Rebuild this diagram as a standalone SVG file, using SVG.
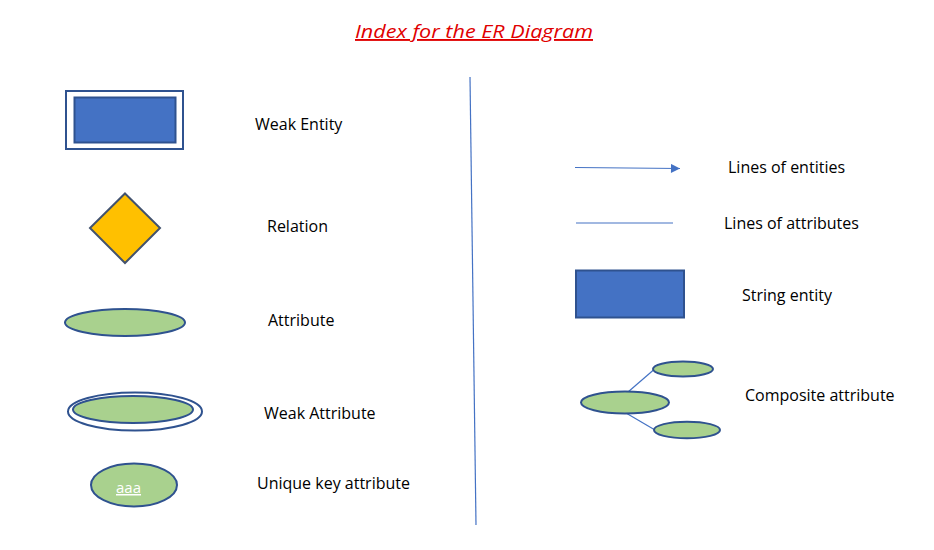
<svg xmlns="http://www.w3.org/2000/svg" width="934" height="550" viewBox="0 0 934 550">
  <style>
    .label { font-family: "Open Sans", "Liberation Sans", sans-serif; font-size: 16px; fill: #000; }
    .title { font-family: "Open Sans", "Liberation Sans", sans-serif; font-size: 19px; font-style: italic; fill: #E00000; text-decoration: underline; }
    .entity { fill: #4472C4; stroke: #2F528F; stroke-width: 2; }
    .frame { fill: #fff; stroke: #2F528F; stroke-width: 2; }
    .rel { fill: #FFC000; stroke: #42526E; stroke-width: 2; }
    .attr { fill: #A9D18E; stroke: #2F528F; stroke-width: 2; }
    .link { stroke: #4472C4; stroke-width: 1.2; fill: none; }
    .key { font-family: "Open Sans", "Liberation Sans", sans-serif; font-size: 15px; fill: #fff; text-decoration: underline; }
  </style>
  <defs>
    <marker id="arrow" viewBox="0 0 10 10" refX="10" refY="5" markerWidth="10" markerHeight="9" markerUnits="userSpaceOnUse" orient="auto">
      <path d="M0,0 L10,5 L0,10 z" fill="#4472C4"/>
    </marker>
  </defs>

  <rect width="934" height="550" fill="#fff"/>

  <text class="title" x="474" y="38" text-anchor="middle" textLength="238" lengthAdjust="spacingAndGlyphs">Index for the ER Diagram</text>

  <!-- left column: symbols -->
  <g id="weak-entity">
    <rect class="frame" x="66" y="91" width="117" height="58"/>
    <rect class="entity" x="74.5" y="97.5" width="101" height="45"/>
    <text class="label" x="255" y="130">Weak Entity</text>
  </g>

  <g id="relation">
    <polygon class="rel" points="125,193.5 160,228 125,263 90,228"/>
    <text class="label" x="267" y="232">Relation</text>
  </g>

  <g id="attribute">
    <ellipse class="attr" cx="125" cy="322.5" rx="60" ry="13.5"/>
    <text class="label" x="268" y="326">Attribute</text>
  </g>

  <g id="weak-attribute">
    <ellipse class="frame" cx="135" cy="411.5" rx="67" ry="19"/>
    <ellipse class="attr" cx="133" cy="409.5" rx="60" ry="13.5"/>
    <text class="label" x="264" y="419">Weak Attribute</text>
  </g>

  <g id="unique-key-attribute">
    <ellipse class="attr" cx="134" cy="485" rx="43" ry="21.5"/>
    <text class="key" x="116" y="493">aaa</text>
    <text class="label" x="257" y="489">Unique key attribute</text>
  </g>

  <!-- right column: connector styles and other shapes -->
  <g id="connectors">
    <line class="link" x1="470" y1="77" x2="476" y2="525"/>
    <line class="link" x1="575" y1="167.5" x2="680" y2="168.5" marker-end="url(#arrow)"/>
    <line class="link" x1="576" y1="223" x2="673" y2="223"/>
    <line class="link" x1="628" y1="392" x2="653.5" y2="370"/>
    <line class="link" x1="626" y1="413" x2="655" y2="430"/>
  </g>

  <g id="lines-of-entities">
    <text class="label" x="728" y="173">Lines of entities</text>
  </g>

  <g id="lines-of-attributes">
    <text class="label" x="724" y="229">Lines of attributes</text>
  </g>

  <g id="string-entity">
    <rect class="entity" x="576" y="270.5" width="108" height="47"/>
    <text class="label" x="742" y="301">String entity</text>
  </g>

  <g id="composite-attribute">
    <ellipse class="attr" cx="625" cy="402.5" rx="44" ry="11"/>
    <ellipse class="attr" cx="683" cy="369" rx="30" ry="7.5"/>
    <ellipse class="attr" cx="687" cy="430" rx="33" ry="8.3"/>
    <text class="label" x="745" y="401">Composite attribute</text>
  </g>
</svg>
